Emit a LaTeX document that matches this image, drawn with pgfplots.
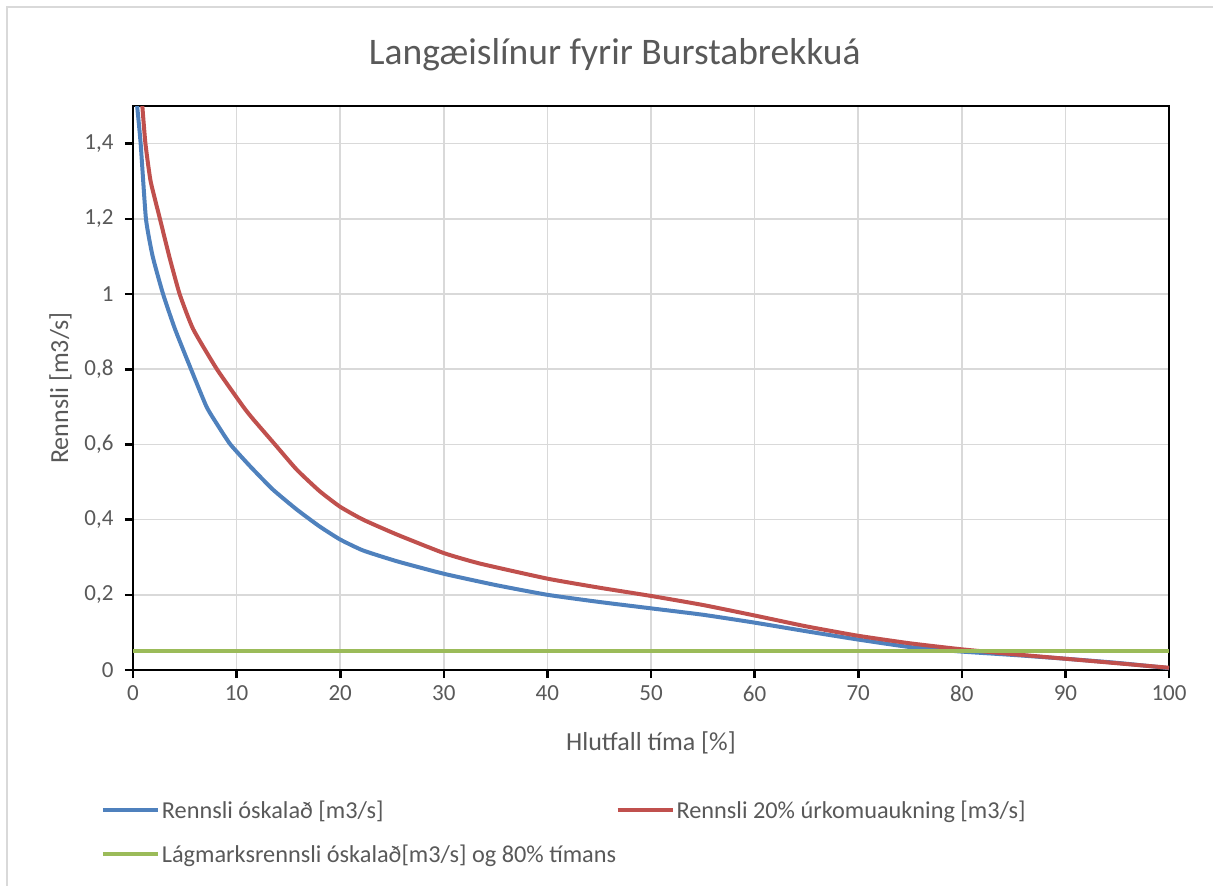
\documentclass[border=0pt]{standalone}
\usepackage{pgfplots}
\pgfplotsset{compat=1.18}
\usepackage{fontspec}
\setmainfont{Carlito}
\definecolor{cblue}{HTML}{4F81BD}
\definecolor{cred}{HTML}{C0504D}
\definecolor{cgreen}{HTML}{9BBB59}
\definecolor{tgray}{HTML}{595959}
\definecolor{ggray}{HTML}{D9D9D9}
\begin{document}
\begin{tikzpicture}
\useasboundingbox (0pt,0pt) rectangle (1213pt,-886pt);
\draw[ggray, line width=2pt] (7pt,-886pt) -- (7pt,-7pt) -- (1213pt,-7pt);
\begin{axis}[
  at={(133pt,-670pt)}, anchor=south west,
  scale only axis, width=1036pt, height=564pt,
  xmin=0, xmax=100, ymin=0, ymax=1.5,
  xtick={0,10,...,100},
  ytick={0,0.2,0.4,0.6,0.8,1,1.2,1.4},
  /pgf/number format/use comma,
  /pgf/number format/assume math mode=true,
  grid=major,
  major grid style={ggray, line width=1.6pt},
  axis line style={black, line width=2.6pt},
  tick style={black, line width=2.6pt},
  tick align=outside,
  major tick length=8pt,
  xtick pos=bottom, ytick pos=left,
  ticklabel style={font=\fontsize{23}{27}\selectfont, text=tgray},
  xticklabel style={yshift=-4pt},
  yticklabel style={xshift=-8pt},
  xlabel={Hlutfall tíma [\%]},
  ylabel={Rennsli [m3/s]},
  label style={font=\fontsize{26}{30}\selectfont, text=tgray},
  xlabel style={yshift=-23pt},
  ylabel style={yshift=6pt},
  title={Langæislínur fyrir Burstabrekkuá},
  title style={font=\fontsize{37.5}{44}\selectfont, text=tgray, at={(0.465,1)}, yshift=26pt},
  legend style={draw=none, fill=none, inner sep=0pt, outer sep=0pt,
    at={(axis description cs:-0.031,-0.228)}, anchor=north west,
    font=\fontsize{24.3}{29}\selectfont, text=tgray,
    /tikz/every even column/.append style={column sep=230pt},
    row sep=21pt},
  legend columns=2,
  legend cell align=left,
  legend image code/.code={\draw[#1, line width=4pt] (0pt,0pt) -- (55pt,0pt);},
]
\addplot[cblue, line width=4pt, smooth, tension=0.3] coordinates {
(0.4,1.50) (0.74,1.40) (1.25,1.20) (1.9,1.10) (2.9,1.00) (4.05,0.907) (5.6,0.80)
(7.1,0.70) (8.2,0.65) (9.4,0.60) (11.3,0.542) (13.5,0.48) (15.8,0.427) (18,0.382)
(20,0.347) (22.2,0.318) (25.5,0.289) (30,0.256) (35,0.226) (40,0.200) (45,0.181)
(50,0.164) (55,0.147) (60,0.126) (65,0.103) (70,0.081) (75,0.061) (80,0.049)
(85,0.040) (90,0.030) (95,0.019) (100,0.005)
};
\addlegendentry{Rennsli óskalað [m3/s]}
\addplot[cred, line width=4pt, smooth, tension=0.3] coordinates {
(0.9,1.50) (1.2,1.40) (1.7,1.30) (2.6,1.20) (3.5,1.10) (4.5,1.00) (5.8,0.907)
(8.1,0.80) (10.65,0.70) (11.6,0.667) (13.7,0.60) (15.8,0.533) (18,0.476) (20,0.434)
(22.2,0.40) (25.5,0.36) (30,0.311) (33.5,0.283) (40,0.243) (45,0.219) (50,0.197)
(55,0.173) (60,0.145) (65,0.116) (70,0.091) (75,0.071) (80,0.055) (85,0.042)
(90,0.030) (95,0.018) (100,0.006)
};
\addlegendentry{Rennsli 20\% úrkomuaukning [m3/s]}
\addplot[cgreen, line width=4pt] coordinates {(0,0.05) (100,0.05)};
\addlegendentry{\makebox[0pt][l]{Lágmarksrennsli óskalað[m3/s] og 80\% tímans}}
\end{axis}
\end{tikzpicture}
\end{document}
